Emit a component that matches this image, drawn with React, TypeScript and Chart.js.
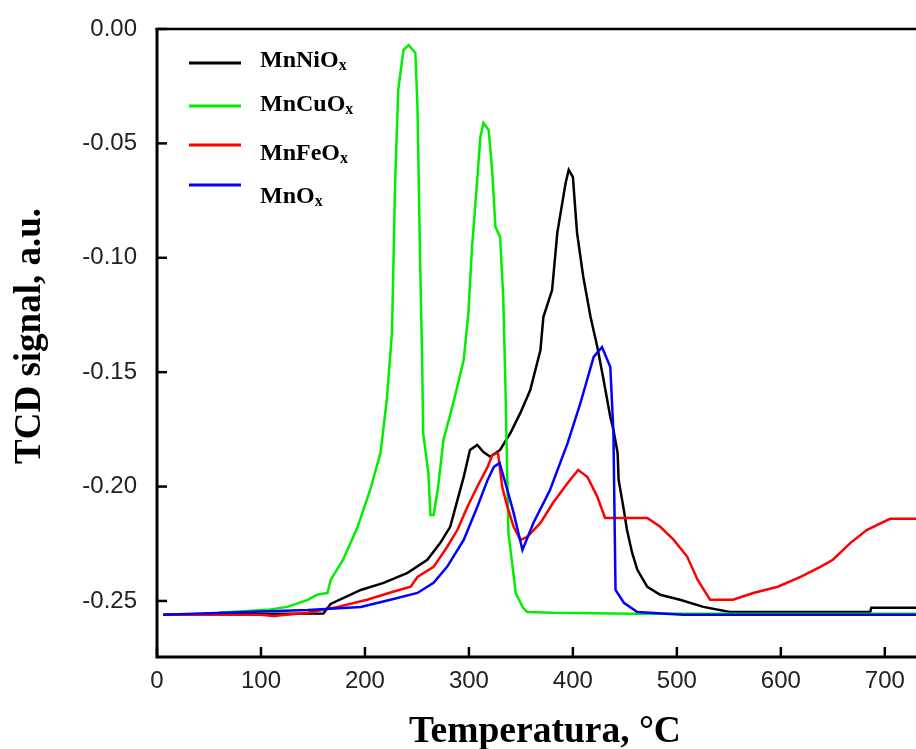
import React, { useEffect, useRef } from "react";
import { Chart, registerables } from "chart.js";

Chart.register(...registerables);

// ---- axis ticks / labels ----
const xTicks = [0, 100, 200, 300, 400, 500, 600, 700];
const yTicks = [0, -0.05, -0.1, -0.15, -0.2, -0.25];
const xTitle = "Temperatura, °C";
const yTitle = "TCD signal, a.u.";
const legendBase = ["MnNiO", "MnCuO", "MnFeO", "MnO"];
const legendSub = "x";

// ---- series (temperature °C, TCD signal) ----
const mnNiT = [6, 160, 167, 196, 218, 241, 260, 272.5, 282, 289, 295, 301, 308, 314, 320.5, 330, 340, 349.5, 359, 368.8, 371.6, 380, 385, 393, 396, 400, 404, 410, 417, 423.5, 429, 436, 439, 443, 444, 449, 452, 457, 462, 471.6, 484, 503, 525.5, 551, 686, 687, 730];
const mnNiV = [-0.256, -0.2555, -0.2513, -0.2452, -0.2421, -0.2377, -0.232, -0.2246, -0.2176, -0.2058, -0.1958, -0.184, -0.1818, -0.1849, -0.187, -0.184, -0.1765, -0.1678, -0.1578, -0.1403, -0.1259, -0.1141, -0.0891, -0.0673, -0.0616, -0.0647, -0.0891, -0.1084, -0.1259, -0.139, -0.1521, -0.1696, -0.1752, -0.1853, -0.1971, -0.2102, -0.2189, -0.229, -0.2364, -0.2438, -0.2473, -0.2495, -0.2526, -0.2548, -0.2548, -0.253, -0.253];

const mnCuT = [59, 106, 125.5, 145, 154, 164, 167, 179, 193, 205, 215, 221, 226, 229, 232, 237, 242, 248.5, 250.5, 253, 255, 256, 261, 263, 266, 270, 275.5, 285, 295, 299.5, 303, 308, 311, 314, 319, 322.5, 325.5, 330, 333, 335, 338, 345, 352, 356, 381, 458, 730];
const mnCuV = [-0.2552, -0.2539, -0.2526, -0.2495, -0.2473, -0.2465, -0.2408, -0.232, -0.2176, -0.2015, -0.1853, -0.1621, -0.1328, -0.0673, -0.0267, -0.0092, -0.007, -0.0105, -0.0341, -0.0996, -0.1446, -0.1765, -0.194, -0.2124, -0.2124, -0.2015, -0.1796, -0.1634, -0.1446, -0.1241, -0.0953, -0.066, -0.0472, -0.0411, -0.0441, -0.0629, -0.0865, -0.0909, -0.1171, -0.1534, -0.2203, -0.2465, -0.253, -0.2548, -0.2552, -0.2556, -0.2556];

const mnFeT = [6, 100, 112, 145, 174, 202, 227, 244, 250.5, 266, 279, 289, 298.5, 308, 318, 322.5, 328, 332, 337, 343, 349.5, 356, 368.8, 381, 395, 405, 414, 423.5, 431, 471.6, 484, 497, 510, 520, 532, 554, 573.5, 597, 619, 638, 650, 667, 683, 705, 730];
const mnFeV = [-0.256, -0.256, -0.2566, -0.2552, -0.2526, -0.2495, -0.246, -0.2438, -0.2395, -0.2351, -0.2264, -0.2189, -0.2089, -0.2001, -0.1914, -0.1862, -0.1853, -0.2001, -0.2089, -0.2176, -0.2233, -0.222, -0.2159, -0.2071, -0.1984, -0.1927, -0.1958, -0.2045, -0.2137, -0.2137, -0.2176, -0.2233, -0.2307, -0.2408, -0.2495, -0.2495, -0.2465, -0.2438, -0.2395, -0.2351, -0.232, -0.2246, -0.2189, -0.2141, -0.2141];

const mnT = [6, 145, 196, 224.5, 250.5, 266, 279, 295, 308, 318, 324, 329.5, 337, 343, 351.5, 362, 378, 395, 407, 420, 428, 436, 439, 441, 449, 462, 506, 730];
const mnV = [-0.256, -0.254, -0.2526, -0.2495, -0.2465, -0.2421, -0.2351, -0.2233, -0.2089, -0.1971, -0.1914, -0.1897, -0.2015, -0.2115, -0.2277, -0.2159, -0.2015, -0.1809, -0.1639, -0.1433, -0.139, -0.1477, -0.1765, -0.2452, -0.2508, -0.2548, -0.256, -0.256];

const colors = ["#000000", "#00ee00", "#ff0000", "#0000ff"];

const pts = (t: number[], v: number[]) => t.map((x, i) => ({ x, y: v[i] }));

const framePlugin = {
  id: "frame",
  afterDatasetsDraw(chart: any) {
    const { ctx, chartArea } = chart;
    const xs = chart.scales.x;
    const ys = chart.scales.y;
    const { left, top, bottom } = chartArea;
    ctx.save();
    ctx.strokeStyle = "#000";
    ctx.lineCap = "butt";
    // frame lines
    ctx.lineWidth = 3;
    ctx.beginPath();
    ctx.moveTo(left, top - 1);
    ctx.lineTo(left, bottom);
    ctx.lineTo(chart.width, bottom);
    ctx.stroke();
    ctx.lineWidth = 2.5;
    ctx.beginPath();
    ctx.moveTo(left - 1.5, top);
    ctx.lineTo(chart.width, top);
    ctx.stroke();
    // inward ticks
    ctx.lineWidth = 2.5;
    yTicks.forEach((v) => {
      const y = ys.getPixelForValue(v);
      ctx.beginPath();
      ctx.moveTo(left, y);
      ctx.lineTo(left + 10, y);
      ctx.stroke();
    });
    xTicks.forEach((v) => {
      const x = xs.getPixelForValue(v);
      ctx.beginPath();
      ctx.moveTo(x, bottom);
      ctx.lineTo(x, bottom - 10);
      ctx.stroke();
    });
    // axis titles
    ctx.fillStyle = "#000";
    ctx.textAlign = "center";
    ctx.textBaseline = "alphabetic";
    ctx.font = "bold 37.5px 'Liberation Serif', serif";
    ctx.fillText(xTitle, 545, 742);
    ctx.save();
    ctx.translate(40, 336);
    ctx.rotate(-Math.PI / 2);
    ctx.font = "bold 37px 'Liberation Serif', serif";
    ctx.fillText(yTitle, 0, 0);
    ctx.restore();
    // legend
    const lineX0 = 189, lineX1 = 241;
    const lineYs = [63, 106, 145, 185];
    const textYs = [67, 111, 160, 203];
    legendBase.forEach((name, i) => {
      ctx.strokeStyle = colors[i];
      ctx.lineWidth = 3;
      ctx.beginPath();
      ctx.moveTo(lineX0, lineYs[i]);
      ctx.lineTo(lineX1, lineYs[i]);
      ctx.stroke();
      ctx.fillStyle = "#000";
      ctx.textBaseline = "alphabetic";
      ctx.textAlign = "left";
      ctx.font = "bold 24px 'Liberation Serif', serif";
      ctx.fillText(name, 260, textYs[i]);
      const w = ctx.measureText(name).width;
      ctx.font = "bold 16px 'Liberation Serif', serif";
      ctx.fillText(legendSub, 260 + w, textYs[i] + 3);
    });
    ctx.restore();
  },
};

export default function App() {
  const ref = useRef<HTMLCanvasElement | null>(null);
  useEffect(() => {
    document.body.style.margin = "0";
    const canvas = ref.current;
    if (!canvas) return;
    const chart = new Chart(canvas, {
      type: "line",
      data: {
        datasets: [
          { label: "MnOx", data: pts(mnT, mnV), borderColor: colors[3] },
          { label: "MnFeOx", data: pts(mnFeT, mnFeV), borderColor: colors[2] },
          { label: "MnCuOx", data: pts(mnCuT, mnCuV), borderColor: colors[1] },
          { label: "MnNiOx", data: pts(mnNiT, mnNiV), borderColor: colors[0] },
        ].map((d) => ({
          ...d,
          borderWidth: 2.5,
          pointRadius: 0,
          tension: 0,
          fill: false,
        })),
      },
      options: {
        animation: false,
        responsive: false,
        devicePixelRatio: 1,
        layout: { padding: { top: 29, right: 0, left: 0, bottom: 0 } },
        plugins: { legend: { display: false }, tooltip: { enabled: false } },
        scales: {
          x: {
            type: "linear",
            min: 0,
            max: 730,
            grid: { display: false, drawTicks: false },
            border: { display: false },
            afterBuildTicks: (s: any) => {
              s.ticks = xTicks.map((v) => ({ value: v }));
            },
            afterFit: (s: any) => {
              s.height = 92;
              s.paddingLeft = 0;
              s.paddingRight = 0;
            },
            ticks: {
              padding: 10,
              color: "#222",
              font: { family: "'Liberation Sans', Arial, sans-serif", size: 24 },
              maxRotation: 0,
              autoSkip: false,
              callback: (v: any) => String(v),
            },
            title: { display: false },
          },
          y: {
            type: "linear",
            min: -0.2745,
            max: 0,
            grid: { display: false, drawTicks: false },
            border: { display: false },
            afterBuildTicks: (s: any) => {
              s.ticks = yTicks.map((v) => ({ value: v }));
            },
            afterFit: (s: any) => {
              s.width = 157;
              s.paddingTop = 0;
              s.paddingBottom = 0;
            },
            ticks: {
              padding: 20,
              color: "#222",
              font: { family: "'Liberation Sans', Arial, sans-serif", size: 24 },
              autoSkip: false,
              callback: (v: any) => Number(v).toFixed(2),
            },
            title: { display: false },
          },
        },
      },
      plugins: [framePlugin],
    } as any);
    return () => chart.destroy();
  }, []);
  return (
    <div style={{ position: "absolute", left: 0, top: 0, width: 916, height: 749, background: "#fff" }}>
      <canvas ref={ref} width={916} height={749} style={{ display: "block" }} />
    </div>
  );
}
